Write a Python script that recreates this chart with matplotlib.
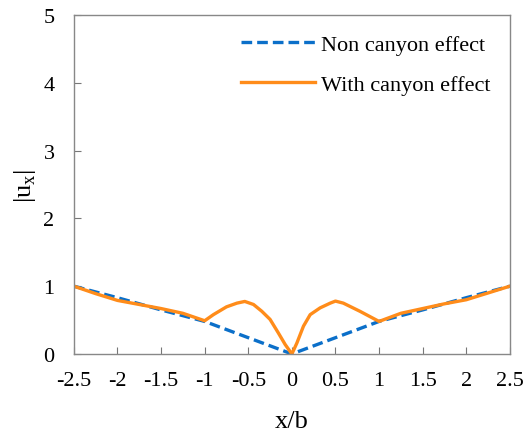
import numpy as np
import matplotlib
matplotlib.use('Agg')
import matplotlib.pyplot as plt

plt.rcParams['font.family'] = 'Liberation Serif'

# normalized coordinate x/b
x_non = [-2.5, -2.0, -1.5, -1.0, -0.5, 0.0, 0.5, 1.0, 1.5, 2.0, 2.5]
u_non = [1.0, 0.83, 0.65, 0.48, 0.24, 0.0, 0.24, 0.48, 0.65, 0.83, 1.0]

x_can = [-2.5, -2.25, -2.0, -1.75, -1.5, -1.25, -1.0, -0.9, -0.75, -0.63,
         -0.54, -0.44, -0.345, -0.25, -0.155, -0.077, 0.0,
         0.057, 0.133, 0.21, 0.324, 0.44, 0.5, 0.59, 0.78,
         1.0, 1.25, 1.5, 1.75, 2.0, 2.25, 2.5]
u_can = [1.0, 0.89, 0.79, 0.73, 0.67, 0.60, 0.49, 0.58, 0.695, 0.75,
         0.775, 0.73, 0.63, 0.51, 0.31, 0.14, 0.0,
         0.16, 0.41, 0.58, 0.68, 0.75, 0.78, 0.75, 0.63,
         0.48, 0.60, 0.67, 0.74, 0.80, 0.90, 1.0]

fig = plt.figure(figsize=(5.24, 4.35), dpi=100)
ax = fig.add_axes([0.141, 0.184, 0.832, 0.779])

ax.plot(x_non, u_non, color='#0b6fc9', lw=2.4, ls=(0, (3.2, 1.5)),
        label='Non canyon effect')
ax.plot(x_can, u_can, color='#ff8c1a', lw=2.4, label='With canyon effect')

ax.set_xlim(-2.5, 2.5)
ax.set_ylim(0, 5)
ax.set_xticks(np.arange(-2.5, 2.51, 0.5))
ax.set_xticklabels(['-2.5', '-2', '-1.5', '-1', '-0.5', '0', '0.5', '1',
                    '1.5', '2', '2.5'])
ax.set_yticks(range(6))
ax.tick_params(direction='in', length=5, width=0.8, color='#777777',
               labelsize=16, pad=12)
ax.tick_params(axis='y', pad=14)
for s in ax.spines.values():
    s.set_color('#888888')
    s.set_linewidth(1.0)

ax.set_xlabel('x/b', fontsize=19, labelpad=15)
ax.set_ylabel(r'|u$_\mathregular{x}$|', fontsize=19, labelpad=4)

ax.legend(loc='upper right', frameon=False, fontsize=16, handlelength=3.3,
          handletextpad=0.3, labelspacing=0.9, borderaxespad=0.45)

fig.savefig('out.png', dpi=100)
